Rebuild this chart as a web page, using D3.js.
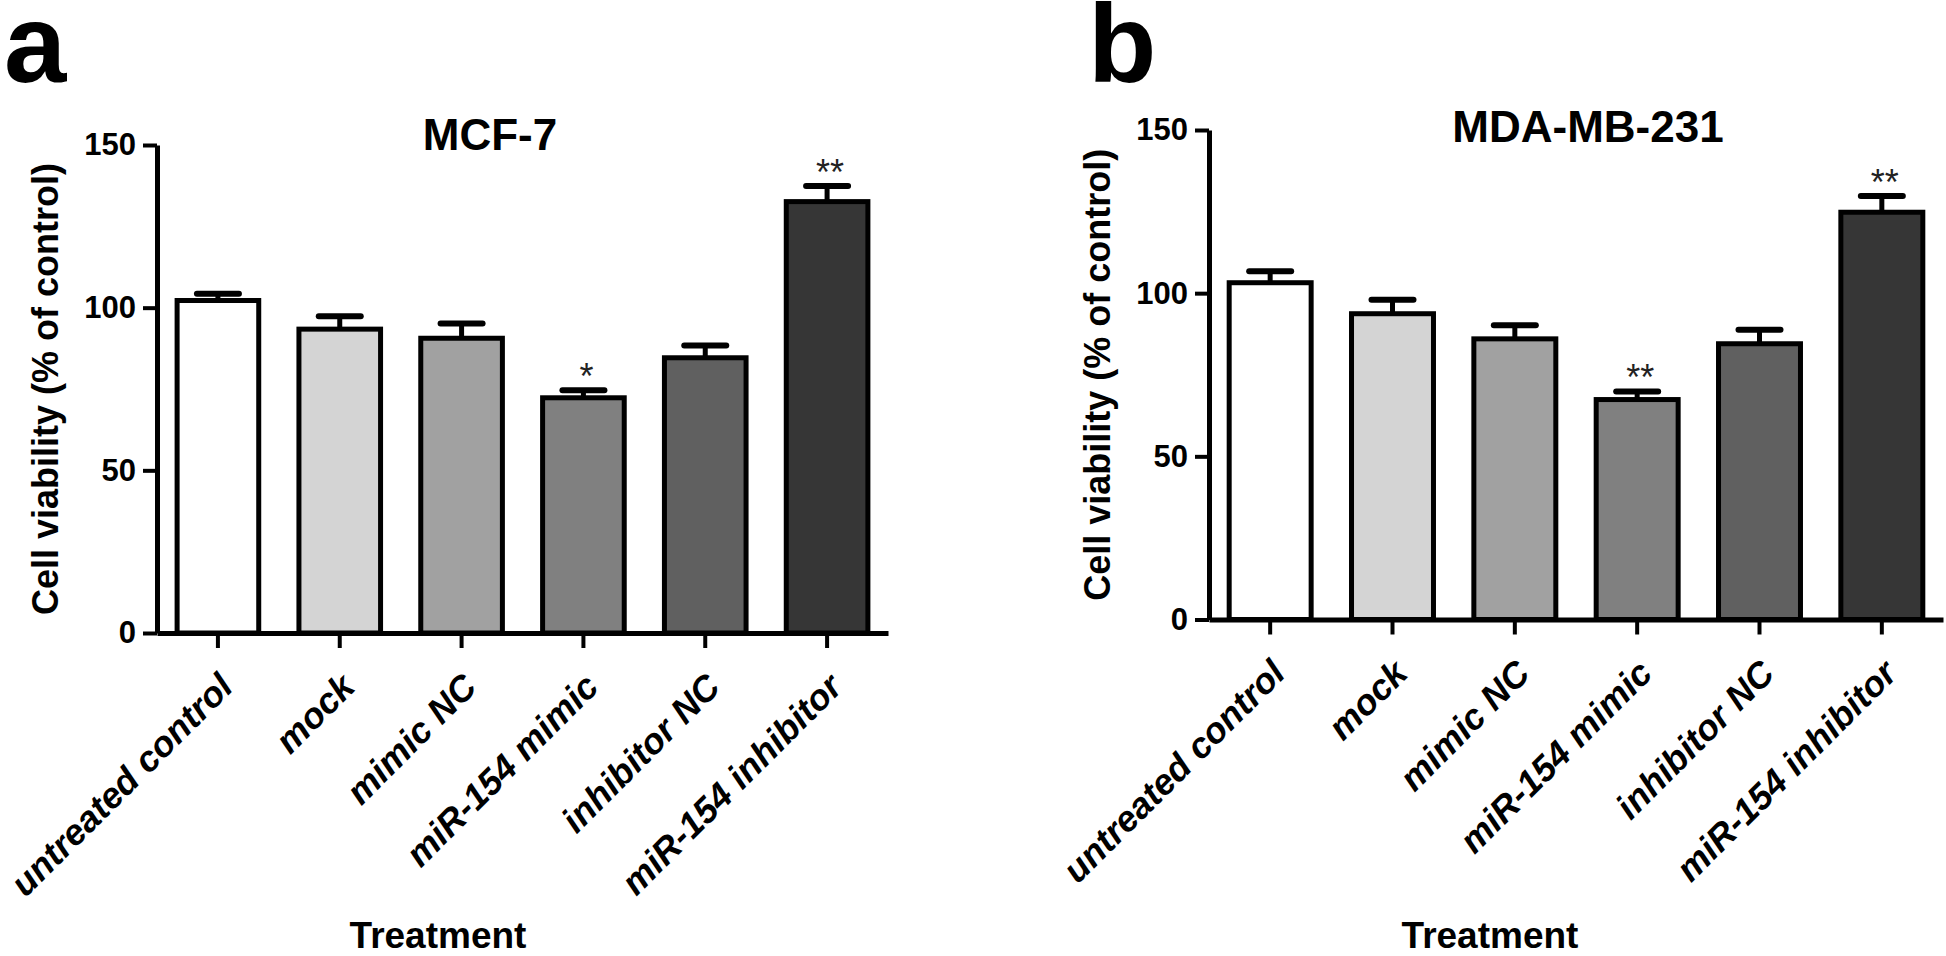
<!DOCTYPE html>
<html>
<head>
<meta charset="utf-8">
<script src="https://cdn.jsdelivr.net/npm/d3@7"></script>
<style>
  html, body { margin: 0; padding: 0; background: #fff; }
  svg { display: block; font-family: "Liberation Sans", Arial, sans-serif; }
</style>
</head>
<body>
<svg id="chart" width="1946" height="956"></svg>
<script>
// ---- data ----
const categories = ["untreated control", "mock", "mimic NC", "miR-154 mimic", "inhibitor NC", "miR-154 inhibitor"];
const barColors = ["#ffffff", "#d4d4d4", "#a1a1a1", "#808080", "#606060", "#363636"];
const yTicks = [0, 50, 100, 150];

const mcf7Values = [102.2, 93.4, 90.6, 72.3, 84.6, 132.6];
const mcf7Errors = [2.1, 4.0, 4.5, 2.3, 3.8, 4.8];
const mcf7Sig = ["", "", "", "*", "", "**"];

const mdaValues = [103.2, 93.7, 86.0, 67.4, 84.5, 124.8];
const mdaErrors = [3.5, 4.3, 4.2, 2.5, 4.3, 5.0];
const mdaSig = ["", "", "", "**", "", "**"];

const panels = [
  { letter: "a", letterX: 4, title: "MCF-7", titleX: 490, titleY: 150,
    x0: 157, x1: 888, yTop: 145, yBot: 633, ylabX: 58, treatX: 438,
    values: mcf7Values, errors: mcf7Errors, sig: mcf7Sig },
  { letter: "b", letterX: 1088, title: "MDA-MB-231", titleX: 1588, titleY: 142,
    x0: 1209, x1: 1943, yTop: 130, yBot: 619.5, ylabX: 1110, treatX: 1490,
    values: mdaValues, errors: mdaErrors, sig: mdaSig }
];

const svg = d3.select("#chart");

panels.forEach(p => {
  const g = svg.append("g");
  const x = d3.scaleBand().domain(categories).range([p.x0, p.x1])
    .paddingInner(0.33).paddingOuter(0.165);
  const y = d3.scaleLinear().domain([0, 150]).range([p.yBot, p.yTop]);

  // panel letter
  g.append("text").attr("x", p.letterX).attr("y", 82)
    .attr("font-size", 112).attr("font-weight", "bold").text(p.letter);

  // title
  g.append("text").attr("x", p.titleX).attr("y", p.titleY)
    .attr("text-anchor", "middle").attr("font-size", 44).attr("font-weight", "bold")
    .text(p.title);

  // bars
  g.selectAll("rect.bar").data(categories).join("rect")
    .attr("class", "bar")
    .attr("x", d => x(d))
    .attr("width", x.bandwidth())
    .attr("y", (d, i) => y(p.values[i]))
    .attr("height", (d, i) => y(0) - y(p.values[i]))
    .attr("fill", (d, i) => barColors[i])
    .attr("stroke", "#000").attr("stroke-width", 5);

  // error bars
  const eb = g.selectAll("g.err").data(categories).join("g").attr("class", "err");
  eb.append("line")
    .attr("x1", d => x(d) + x.bandwidth() / 2).attr("x2", d => x(d) + x.bandwidth() / 2)
    .attr("y1", (d, i) => y(p.values[i])).attr("y2", (d, i) => y(p.values[i] + p.errors[i]))
    .attr("stroke", "#000").attr("stroke-width", 5);
  eb.append("line")
    .attr("x1", d => x(d) + x.bandwidth() / 2 - 21).attr("x2", d => x(d) + x.bandwidth() / 2 + 21)
    .attr("y1", (d, i) => y(p.values[i] + p.errors[i])).attr("y2", (d, i) => y(p.values[i] + p.errors[i]))
    .attr("stroke", "#000").attr("stroke-width", 6).attr("stroke-linecap", "round");

  // significance
  g.selectAll("text.sig").data(categories).join("text")
    .attr("class", "sig")
    .attr("x", d => x(d) + x.bandwidth() / 2 + 3)
    .attr("y", (d, i) => y(p.values[i] + p.errors[i]) - 1)
    .attr("text-anchor", "middle").attr("font-size", 36).attr("fill", "#222")
    .text((d, i) => p.sig[i]);

  // y axis
  const ya = g.append("g").attr("transform", `translate(${p.x0},0)`)
    .call(d3.axisLeft(y).tickValues(yTicks).tickSize(14).tickSizeOuter(0).tickPadding(7));
  ya.select(".domain").attr("stroke", "#000").attr("stroke-width", 5);
  ya.selectAll(".tick line").attr("stroke", "#000").attr("stroke-width", 4);
  ya.selectAll(".tick text").attr("font-size", 31).attr("font-weight", "bold")
    .attr("font-family", "Liberation Sans, Arial, sans-serif").attr("fill", "#000");

  // x axis
  const xa = g.append("g").attr("transform", `translate(0,${p.yBot})`)
    .call(d3.axisBottom(x).tickSize(15).tickSizeOuter(0));
  xa.select(".domain").attr("stroke", "#000").attr("stroke-width", 5);
  xa.selectAll(".tick line").attr("stroke", "#000").attr("stroke-width", 4);
  xa.selectAll(".tick text")
    .attr("font-size", 36).attr("font-weight", "bold").attr("font-style", "italic")
    .attr("font-family", "Liberation Sans, Arial, sans-serif").attr("fill", "#000")
    .attr("text-anchor", "end").attr("dy", 0)
    .attr("y", 0)
    .attr("transform", "translate(17,56) rotate(-45)");

  // y label
  g.append("text")
    .attr("transform", `translate(${p.ylabX},${(p.yTop + p.yBot) / 2}) rotate(-90)`)
    .attr("text-anchor", "middle").attr("font-size", 36).attr("font-weight", "bold")
    .text("Cell viability (% of control)");

  // x label
  g.append("text").attr("x", p.treatX).attr("y", 948)
    .attr("text-anchor", "middle").attr("font-size", 37).attr("font-weight", "bold")
    .text("Treatment");
});
</script>
</body>
</html>
